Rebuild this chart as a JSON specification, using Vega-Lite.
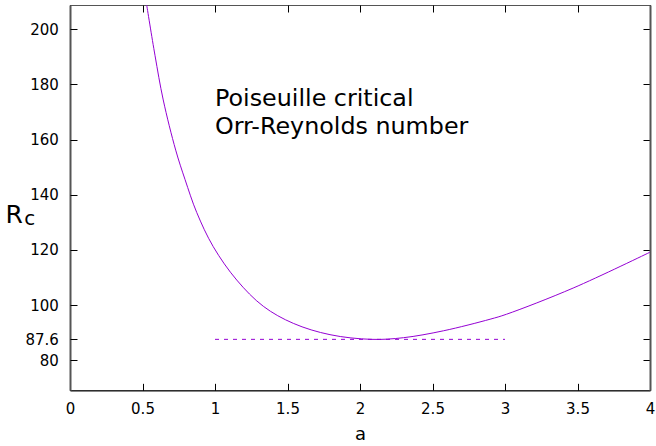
{
  "$schema": "https://vega.github.io/schema/vega-lite/v6.json",
  "width": 580,
  "height": 385.33,
  "autosize": {"type": "none"},
  "padding": {"left": 70, "top": 5, "right": 6, "bottom": 55.67},
  "background": "white",
  "config": {
    "view": {"stroke": "#555", "strokeWidth": 1},
    "font": "DejaVu Sans",
    "axis": {
      "labelFont": "DejaVu Sans",
      "titleFont": "DejaVu Sans",
      "labelColor": "black",
      "titleColor": "black",
      "grid": false,
      "labelFontSize": 15,
      "labelFlush": false,
      "titleFontWeight": "normal"
    }
  },
  "datasets": {
    "curve": [
      {"a": 0.529, "R": 208.8},
      {"a": 0.586, "R": 190.6},
      {"a": 0.643, "R": 174.4},
      {"a": 0.729, "R": 156.2},
      {"a": 0.793, "R": 145.6},
      {"a": 0.874, "R": 133.6},
      {"a": 0.988, "R": 121.2},
      {"a": 1.15, "R": 109.1},
      {"a": 1.333, "R": 99.6},
      {"a": 1.54, "R": 93.4},
      {"a": 1.793, "R": 89.3},
      {"a": 2.08, "R": 87.6},
      {"a": 2.3, "R": 88.2},
      {"a": 2.575, "R": 90.7},
      {"a": 2.897, "R": 94.9},
      {"a": 3.01, "R": 96.7},
      {"a": 3.47, "R": 106.2},
      {"a": 4.0, "R": 119.2}
    ],
    "minline": [
      {"a": 1.0, "R": 87.6},
      {"a": 3.0, "R": 87.6}
    ],
    "notes": [
      {"a": 1.0, "R": 172.2, "label": "Poiseuille critical"},
      {"a": 1.0, "R": 162.05, "label": "Orr-Reynolds number"}
    ],
    "sub": [
      {"a": -0.315, "R": 129.1, "label": "c"}
    ]
  },
  "layer": [
    {
      "data": {"name": "curve"},
      "mark": {"type": "line", "color": "#9400d3", "strokeWidth": 1, "interpolate": "catmull-rom", "clip": true},
      "encoding": {
        "x": {
          "field": "a", "type": "quantitative",
          "scale": {"domain": [0, 4], "nice": false, "zero": false},
          "axis": {
            "orient": "bottom",
            "values": [0, 0.5, 1, 1.5, 2, 2.5, 3, 3.5, 4],
            "labelExpr": "'' + datum.value",
            "ticks": false,
            "labelPadding": 11,
            "domainColor": "black",
            "title": "a",
            "titleFontSize": 18,
            "titleBaseline": "alphabetic",
            "titleY": 48.7
          }
        },
        "y": {
          "field": "R", "type": "quantitative",
          "scale": {"domain": [69.12, 208.82], "nice": false, "zero": false},
          "axis": {
            "orient": "left",
            "values": [80, 87.6, 100, 120, 140, 160, 180, 200],
            "labelExpr": "'' + datum.value",
            "ticks": false,
            "labelPadding": 11.7,
            "domainColor": "#555",
            "domainWidth": 2,
            "title": "R",
            "titleFontSize": 25,
            "titleAngle": 0,
            "titleAlign": "left",
            "titleBaseline": "alphabetic",
            "titleX": -65,
            "titleY": 217.7
          }
        }
      }
    },
    {
      "data": {"name": "minline"},
      "mark": {"type": "line", "color": "#9400d3", "strokeWidth": 1, "strokeDash": [4, 5]},
      "encoding": {
        "x": {
          "field": "a", "type": "quantitative",
          "scale": {"domain": [0, 4], "nice": false, "zero": false},
          "axis": {
            "orient": "bottom",
            "offset": -385.33,
            "values": [0, 0.5, 1, 1.5, 2, 2.5, 3, 3.5, 4],
            "labels": false,
            "domain": false,
            "ticks": true,
            "tickSize": 7,
            "tickColor": "black",
            "title": null
          }
        },
        "y": {
          "field": "R", "type": "quantitative",
          "scale": {"domain": [69.12, 208.82], "nice": false, "zero": false},
          "axis": {
            "orient": "left",
            "offset": -580,
            "values": [80, 87.6, 100, 120, 140, 160, 180, 200],
            "labels": false,
            "domainColor": "#555",
            "domainWidth": 2,
            "ticks": true,
            "tickSize": 7,
            "tickColor": "black",
            "title": null
          }
        }
      }
    },
    {
      "data": {"name": "notes"},
      "mark": {"type": "text", "align": "left", "baseline": "alphabetic", "fontSize": 23.8, "font": "DejaVu Sans", "color": "black"},
      "encoding": {
        "x": {
          "field": "a", "type": "quantitative",
          "axis": {
            "orient": "top",
            "offset": -385.33,
            "values": [0, 0.5, 1, 1.5, 2, 2.5, 3, 3.5, 4],
            "labels": false,
            "domain": false,
            "ticks": true,
            "tickSize": 7,
            "tickColor": "black",
            "title": null
          }
        },
        "y": {
          "field": "R", "type": "quantitative",
          "axis": {
            "orient": "right",
            "offset": -580,
            "values": [80, 87.6, 100, 120, 140, 160, 180, 200],
            "labels": false,
            "domain": false,
            "ticks": true,
            "tickSize": 7,
            "tickColor": "black",
            "title": null
          }
        },
        "text": {"field": "label", "type": "nominal"}
      }
    },
    {
      "data": {"name": "sub"},
      "mark": {"type": "text", "align": "left", "baseline": "alphabetic", "fontSize": 20, "font": "DejaVu Sans", "color": "black"},
      "encoding": {
        "x": {"field": "a", "type": "quantitative", "axis": null},
        "y": {"field": "R", "type": "quantitative", "axis": null},
        "text": {"field": "label", "type": "nominal"}
      }
    }
  ],
  "resolve": {"axis": {"x": "independent", "y": "independent"}}
}
